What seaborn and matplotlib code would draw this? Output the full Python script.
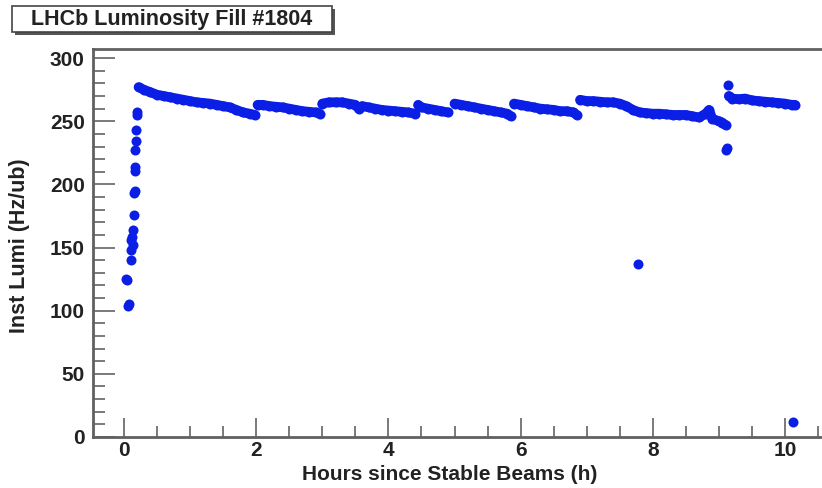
import matplotlib
matplotlib.use("Agg")
import matplotlib.pyplot as plt
import matplotlib.patches as mpatches
from matplotlib.ticker import MultipleLocator
import seaborn as sns
import pandas as pd

# ---- data ----
rise_h = [0.03, 0.05, 0.06, 0.07, 0.10, 0.11, 0.10, 0.12, 0.13, 0.14, 0.15, 0.15,
          0.16, 0.16, 0.17, 0.17, 0.18, 0.18, 0.19, 0.20]
rise_l = [125, 124, 104, 105, 140, 148, 156, 158, 152, 164, 176, 193,
          195, 211, 214, 227, 234, 243, 255, 257]

segB_h = [0.22, 0.3, 0.4, 0.5, 0.6, 0.7, 0.8, 0.9, 1.0, 1.1, 1.2, 1.3, 1.4, 1.5,
          1.6, 1.7, 1.8, 1.9, 1.98]
segB_l = [277, 275, 273, 271, 270, 269, 268, 267, 266, 265, 264.5, 264, 263, 262,
          261, 259, 257, 256, 255]

segC_h = [2.02, 2.1, 2.2, 2.3, 2.4, 2.5, 2.6, 2.7, 2.8, 2.9, 2.96]
segC_l = [263, 263, 262, 261.5, 261, 260, 259, 258, 257.5, 257, 256]

segD_h = [3.0, 3.1, 3.2, 3.3, 3.4, 3.5, 3.55, 3.6, 3.7, 3.8, 3.9, 4.0, 4.1, 4.2,
          4.3, 4.4]
segD_l = [264, 265, 265, 265, 264, 263, 260, 262, 261, 260, 259, 258.5, 258, 257.5,
          257, 256]

segE_h = [4.45, 4.5, 4.6, 4.7, 4.8, 4.9]
segE_l = [263, 261, 260, 259, 258, 257]

segF_h = [5.0, 5.1, 5.2, 5.3, 5.4, 5.5, 5.6, 5.7, 5.8, 5.85]
segF_l = [264, 263, 262, 261, 260, 259, 258, 257, 256, 254]

segG_h = [5.9, 6.0, 6.1, 6.2, 6.3, 6.4, 6.5, 6.6, 6.7, 6.8, 6.85]
segG_l = [264, 263, 262, 261, 260, 259.5, 259, 258, 258, 257, 255]

segH_h = [6.9, 7.0, 7.1, 7.2, 7.3, 7.4, 7.5, 7.6, 7.7, 7.8, 7.9, 8.0, 8.1, 8.2,
          8.3, 8.4, 8.5, 8.6, 8.7, 8.8, 8.85, 8.9, 9.0, 9.05, 9.1]
segH_l = [267, 266, 266, 265.5, 265, 265, 264, 262, 259, 257, 256.5, 256, 256, 255.5,
          255, 255, 255, 254, 253, 256, 259, 252, 250, 249, 247]

segI_h = [9.15, 9.2, 9.3, 9.4, 9.5, 9.6, 9.7, 9.8, 9.9, 10.0, 10.1, 10.15]
segI_l = [270, 268, 267.5, 268, 266.5, 266, 265.5, 265, 264.5, 264, 263, 263]

out_h = [9.10, 9.12, 9.14, 7.77, 10.12]
out_l = [227, 229, 279, 137, 12]

x_ticks = [0, 2, 4, 6, 8, 10]
y_ticks = [0, 50, 100, 150, 200, 250, 300]

title_txt = "LHCb Luminosity Fill #1804"
xlab = "Hours since Stable Beams (h)"
ylab = "Inst Lumi (Hz/ub)"

segments = [(segB_h, segB_l), (segC_h, segC_l), (segD_h, segD_l), (segE_h, segE_l),
            (segF_h, segF_l), (segG_h, segG_l), (segH_h, segH_l), (segI_h, segI_l)]

hours = list(rise_h) + list(out_h)
lumi = list(rise_l) + list(out_l)
for sh, sl in segments:
    hours += sh
    lumi += sl
df = pd.DataFrame({"h": hours, "lumi": lumi})

BLUE = "#0a1ee6"

# ---- style ----
sns.set_style("white")
plt.rcParams["font.family"] = ["Liberation Sans", "DejaVu Sans"]
plt.rcParams["font.weight"] = "bold"

W, H = 822, 488
fig = plt.figure(figsize=(W / 100, H / 100), dpi=100)
ax_left, ax_top, ax_bot, ax_right = 93, 49, 437, 840
ax = fig.add_axes([ax_left / W, (H - ax_bot) / H, (ax_right - ax_left) / W,
                   (ax_bot - ax_top) / H])

# dense readings: a band through each continuous stretch
for sh, sl in segments:
    seg_df = pd.DataFrame({"h": sh, "lumi": sl})
    sns.lineplot(data=seg_df, x="h", y="lumi", ax=ax, color=BLUE, linewidth=7.0,
                 sort=False, estimator=None, legend=False, zorder=3,
                 solid_capstyle="round", solid_joinstyle="round")

sns.scatterplot(data=df, x="h", y="lumi", ax=ax, color=BLUE, s=52,
                linewidth=0, legend=False, zorder=4)

px_per_h = 66.1
x0_px = 124
ax.set_xlim((ax_left - x0_px) / px_per_h, (ax_right - x0_px) / px_per_h)
ax.set_ylim(0, (ax_bot - ax_top) / 1.263)

ax.set_xticks(x_ticks)
ax.set_yticks(y_ticks)
ax.xaxis.set_minor_locator(MultipleLocator(0.5))
ax.yaxis.set_minor_locator(MultipleLocator(10))

ax.tick_params(axis="both", which="both", bottom=True, left=True, top=False,
               right=False)
ax.tick_params(axis="y", which="major", direction="in", length=15.5, width=1.3,
               color="#707070", labelsize=15, pad=6)
ax.tick_params(axis="y", which="minor", direction="in", length=8.5, width=1.3,
               color="#707070")
ax.tick_params(axis="x", which="major", direction="in", length=14, width=1.3,
               color="#707070", labelsize=15, pad=3)
ax.tick_params(axis="x", which="minor", direction="in", length=8, width=1.3,
               color="#707070")
for lab in ax.get_xticklabels() + ax.get_yticklabels():
    lab.set_fontweight("bold")
    lab.set_color("#222222")

for side, sp in ax.spines.items():
    sp.set_color("#606060")
    sp.set_linewidth(2.0)
ax.spines["right"].set_visible(False)

ax.set_xlabel("")
ax.set_ylabel("")
fig.text(450 / W, 1 - 474 / H, xlab, ha="center", va="center", fontsize=15,
         fontweight="bold", color="#222222")
fig.text(19 / W, 1 - 246 / H, ylab, ha="center", va="center", rotation=90,
         fontsize=15.5, fontweight="bold", color="#222222")

# title box with shadow (ROOT style)
bx0, by0, bx1, by1 = 12, 6, 332, 32
shadow = mpatches.Rectangle((bx0 / W + 2.5 / W, 1 - (by1 + 2.5) / H),
                            (bx1 - bx0) / W, (by1 - by0) / H,
                            transform=fig.transFigure, facecolor="#555555",
                            edgecolor="none", zorder=1)
box = mpatches.Rectangle((bx0 / W, 1 - by1 / H), (bx1 - bx0) / W, (by1 - by0) / H,
                         transform=fig.transFigure, facecolor="white",
                         edgecolor="#444444", linewidth=1.2, zorder=2)
fig.patches.extend([shadow, box])
fig.text((bx0 + bx1) / 2 / W, 1 - (by0 + by1) / 2 / H, title_txt, ha="center",
         va="center", fontsize=15.5, fontweight="bold", color="#222222", zorder=3)

fig.savefig("out.png", dpi=100)
